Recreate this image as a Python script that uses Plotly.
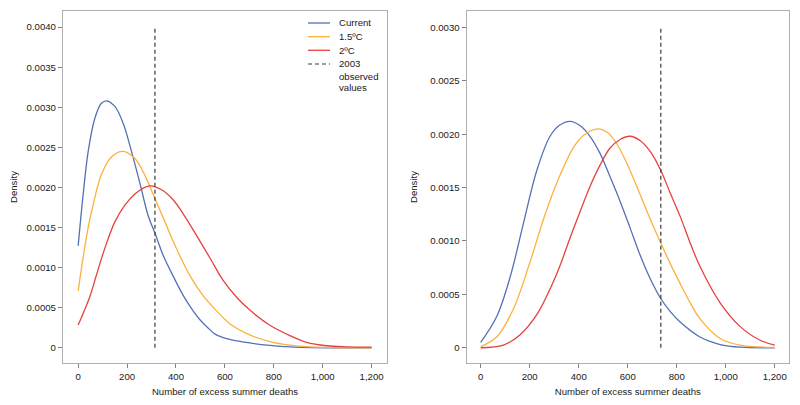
import plotly.graph_objects as go

# ---------------- data ----------------
# Left panel
l_cur_x = [0, 20, 41, 68, 95, 116, 150, 184, 218, 252, 286, 314, 348, 389, 430, 470, 498, 530, 560, 590, 620, 702, 784, 866, 950, 1200]
l_cur_y = [0.00127, 0.00190, 0.00245, 0.00286, 0.00305, 0.00308, 0.00301, 0.00280, 0.00245, 0.00206, 0.00165, 0.00143, 0.00115, 0.00089, 0.00065, 0.00046, 0.00035, 0.00025, 0.00017, 0.00013, 0.000105, 0.00006, 0.00003, 0.00001, 0.000002, 0.0]

l_15_x = [0, 20, 41, 61, 95, 136, 184, 232, 273, 314, 355, 400, 457, 511, 566, 620, 702, 784, 866, 950, 1050, 1200]
l_15_y = [0.00071, 0.00112, 0.00150, 0.00178, 0.00216, 0.00238, 0.00245, 0.00236, 0.00215, 0.00186, 0.00157, 0.00125, 0.00090, 0.00065, 0.00046, 0.00030, 0.00016, 0.000078, 0.000033, 0.00001, 0.000002, 0.0]

l_20_x = [0, 48, 75, 109, 150, 191, 245, 293, 341, 390, 440, 490, 539, 593, 648, 702, 784, 860, 934, 1016, 1098, 1200]
l_20_y = [0.000283, 0.00064, 0.00091, 0.00124, 0.00157, 0.00178, 0.00195, 0.00202, 0.00197, 0.00184, 0.00162, 0.00137, 0.00112, 0.00084, 0.00063, 0.00047, 0.00028, 0.00016, 0.000067, 0.000025, 0.000012, 0.000008]

l_obs = 314
l_obs_top = 0.0040

# Right panel
r_cur_x = [0, 65, 120, 174, 229, 283, 320, 365, 405, 446, 487, 528, 569, 610, 650, 691, 732, 773, 814, 895, 977, 1060, 1200]
r_cur_y = [0.00005, 0.00029, 0.00066, 0.00116, 0.00166, 0.00198, 0.00208, 0.00212, 0.00208, 0.00198, 0.00182, 0.00160, 0.00137, 0.00112, 0.00087, 0.00065, 0.00047, 0.00034, 0.00024, 0.00010, 0.00003, 0.000005, 0.0]

r_15_x = [0, 65, 133, 201, 256, 303, 340, 380, 420, 480, 520, 555, 596, 637, 700, 735, 773, 814, 855, 895, 977, 1058, 1200]
r_15_y = [0.00001, 0.00010, 0.00036, 0.00080, 0.00120, 0.00150, 0.00170, 0.00188, 0.00199, 0.00205, 0.00201, 0.00191, 0.00173, 0.00151, 0.00116, 0.00098, 0.00079, 0.00060, 0.00042, 0.00027, 0.000087, 0.000025, 0.000002]

r_20_x = [0, 93, 160, 229, 297, 324, 365, 405, 446, 487, 528, 569, 610, 650, 691, 735, 773, 814, 855, 895, 977, 1058, 1140, 1200]
r_20_y = [0.0, 0.000025, 0.00012, 0.00031, 0.00062, 0.00077, 0.00103, 0.00127, 0.00151, 0.00171, 0.00187, 0.00195, 0.00198, 0.00194, 0.00184, 0.00166, 0.00145, 0.00123, 0.00098, 0.00076, 0.00042, 0.00020, 0.00007, 0.000025]

r_obs = 735
r_obs_top = 0.0030

x_ticks = [0, 200, 400, 600, 800, 1000, 1200]
x_labels = ["0", "200", "400", "600", "800", "1,000", "1,200"]
yl_ticks = [0, 0.0005, 0.0010, 0.0015, 0.0020, 0.0025, 0.0030, 0.0035, 0.0040]
yl_labels = ["0", "0.0005", "0.0010", "0.0015", "0.0020", "0.0025", "0.0030", "0.0035", "0.0040"]
yr_ticks = [0, 0.0005, 0.0010, 0.0015, 0.0020, 0.0025, 0.0030]
yr_labels = ["0", "0.0005", "0.0010", "0.0015", "0.0020", "0.0025", "0.0030"]

names = ["Current", "1.5ºC", "2ºC", "2003"]
obs_extra = ["observed", "values"]
colors = ["#5470b6", "#fbb13c", "#e6423e", "#3a3a3a"]

# ---------------- figure ----------------
fig = go.Figure()
lw = 1.3
dash = "4px,3px"

left = [(l_cur_x, l_cur_y), (l_15_x, l_15_y), (l_20_x, l_20_y)]
right = [(r_cur_x, r_cur_y), (r_15_x, r_15_y), (r_20_x, r_20_y)]

for i, (xs, ys) in enumerate(left):
    fig.add_trace(go.Scatter(x=xs, y=ys, mode="lines", name=names[i],
                             line=dict(color=colors[i], width=lw, shape="spline", smoothing=1.0),
                             xaxis="x", yaxis="y", showlegend=False))
fig.add_trace(go.Scatter(x=[l_obs, l_obs], y=[0, l_obs_top], mode="lines", name="2003 observed values",
                         line=dict(color=colors[3], width=1.2, dash=dash),
                         xaxis="x", yaxis="y", showlegend=False))

for i, (xs, ys) in enumerate(right):
    fig.add_trace(go.Scatter(x=xs, y=ys, mode="lines", name=names[i],
                             line=dict(color=colors[i], width=lw, shape="spline", smoothing=1.0),
                             xaxis="x2", yaxis="y2", showlegend=False))
fig.add_trace(go.Scatter(x=[r_obs, r_obs], y=[0, r_obs_top], mode="lines", name="2003 observed values",
                         line=dict(color=colors[3], width=1.2, dash=dash),
                         xaxis="x2", yaxis="y2", showlegend=False))

FS = 9.6
font = dict(family="Liberation Sans, Arial, sans-serif", size=FS, color="#1a1a1a")
box = "#b0b0b0"

xcommon = dict(tickmode="array", tickvals=x_ticks, ticktext=x_labels, automargin=False,
               showgrid=False, zeroline=False, showline=True, mirror=True,
               linecolor=box, linewidth=1.3, ticks="outside", ticklen=4,
               tickcolor="#808080", tickfont=font,
               title=dict(text="Number of excess summer deaths", font=font, standoff=7))
ycommon = dict(showgrid=False, zeroline=False, showline=True, mirror=True, automargin=False,
               linecolor=box, linewidth=1.3, ticks="outside", ticklen=4,
               tickcolor="#808080", tickfont=font,
               title=dict(text="Density", font=font, standoff=10))

# The page body has an 8px margin: figure pixel = window pixel - 8
OFF = 8
W, H = 800 - OFF, 405 - OFF


def px(p):
    return (p - OFF) / W


def py(p):
    return 1 - (p - OFF) / H


# manual legend (paper coordinates, from pixel positions in the window)
leg_x0, leg_x1, leg_tx = 308, 330, 336.5
leg_rows = [23, 36.7, 50.3, 64]
extra_rows = [76, 87.7]
shapes = []
annotations = []
for i, yy in enumerate(leg_rows):
    shapes.append(dict(type="line", xref="paper", yref="paper",
                       x0=px(leg_x0), x1=px(leg_x1), y0=py(yy), y1=py(yy),
                       line=dict(color=colors[i], width=1.3 if i < 3 else 1.2,
                                 dash=None if i < 3 else dash)))
    annotations.append(dict(xref="paper", yref="paper", x=px(leg_tx), y=py(yy),
                            text=names[i], showarrow=False, xanchor="left", yanchor="middle",
                            font=font))
for t, yy in zip(obs_extra, extra_rows):
    annotations.append(dict(xref="paper", yref="paper", x=px(leg_tx), y=py(yy),
                            text=t, showarrow=False, xanchor="left", yanchor="middle",
                            font=font))

fig.update_layout(
    width=W, height=H,
    margin=dict(l=0, r=0, t=0, b=0, autoexpand=False),
    paper_bgcolor="white", plot_bgcolor="white",
    font=font,
    xaxis=dict(xcommon, domain=[px(63), px(387)], range=[-62, 1263], anchor="y"),
    yaxis=dict(ycommon, domain=[py(363), py(11)], range=[-0.00019, 0.0042],
               tickmode="array", tickvals=yl_ticks, ticktext=yl_labels, anchor="x"),
    xaxis2=dict(xcommon, domain=[px(466.7), px(789)], range=[-57, 1258], anchor="y2"),
    yaxis2=dict(ycommon, domain=[py(363), py(11)], range=[-0.000143, 0.003153],
                tickmode="array", tickvals=yr_ticks, ticktext=yr_labels, anchor="x2"),
    shapes=shapes,
    annotations=annotations,
    showlegend=False,
)

fig.write_html("out.html")
